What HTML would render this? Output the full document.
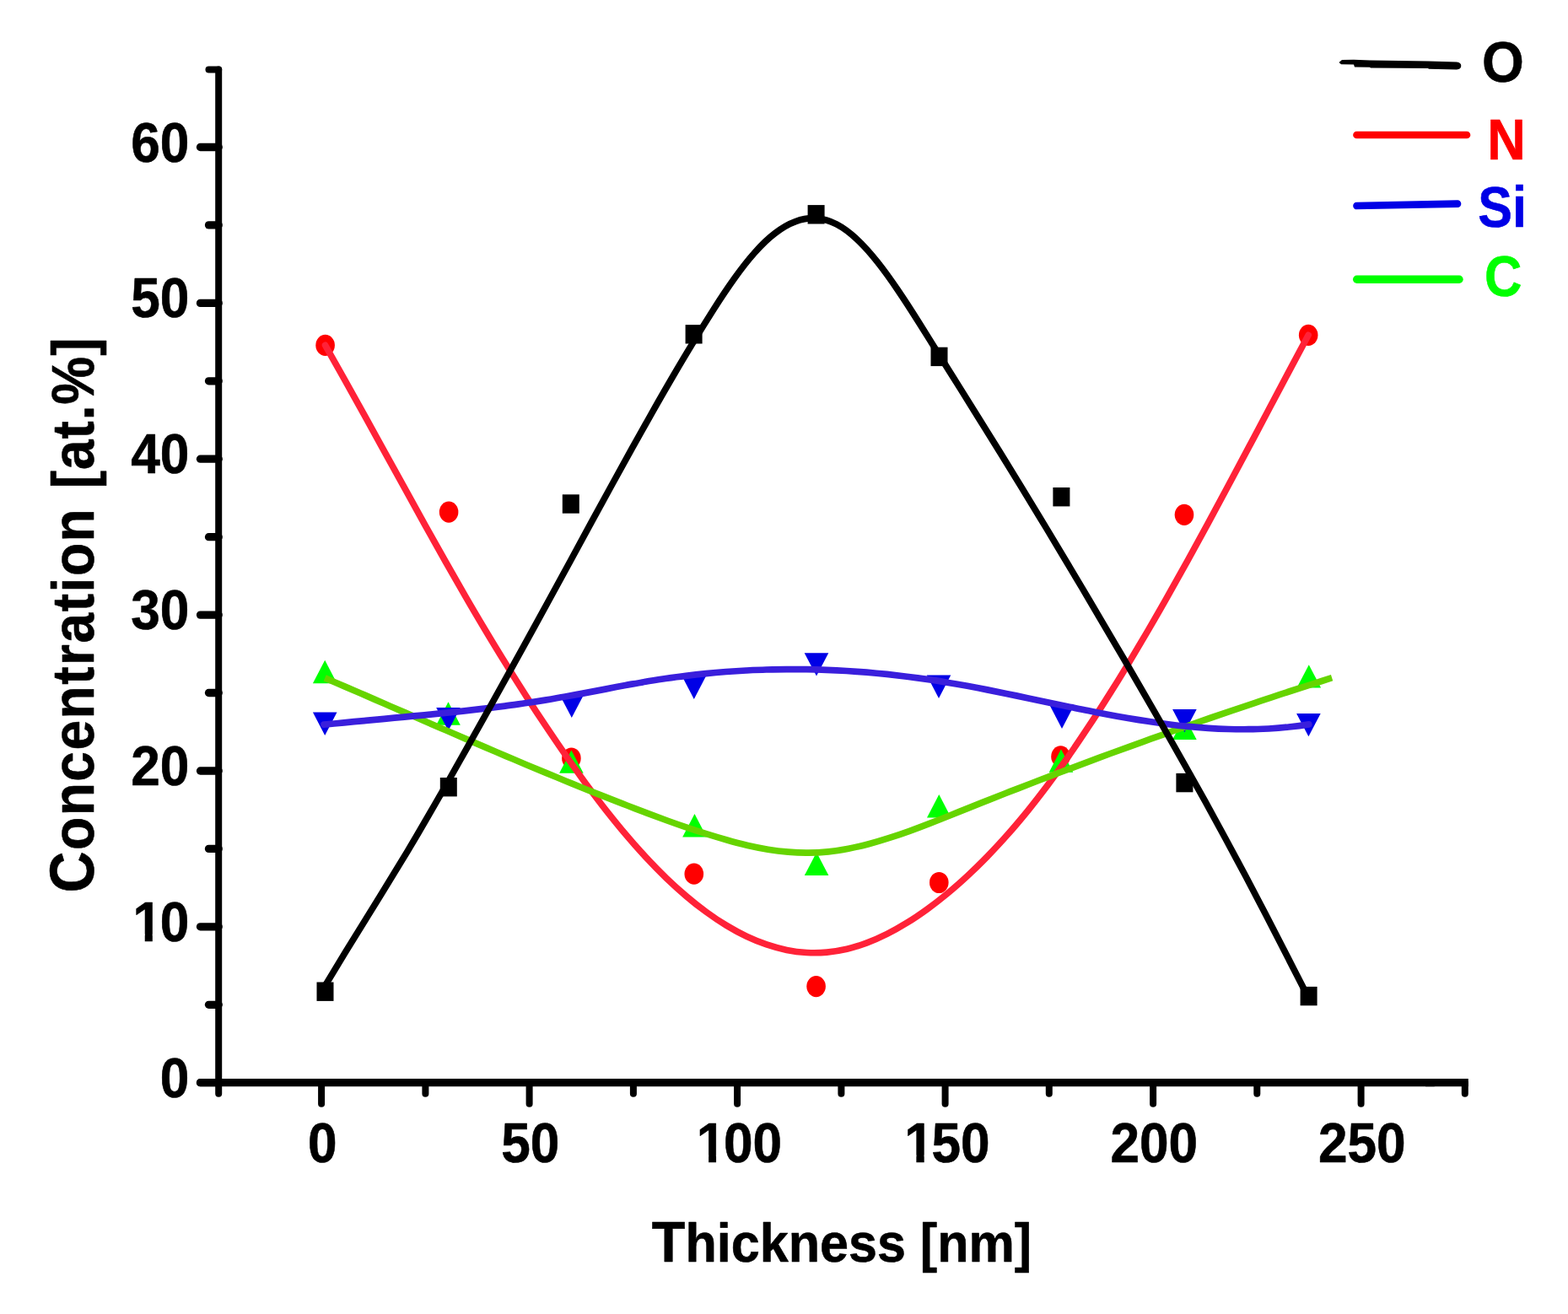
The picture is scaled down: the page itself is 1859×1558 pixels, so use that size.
<!DOCTYPE html>
<html lang="en">
<head>
<meta charset="utf-8">
<title>Concentration [at.%] vs Thickness [nm]</title>
<style>
html,body{margin:0;padding:0;background:#fff;}
body{width:1859px;height:1558px;overflow:hidden;}
svg{display:block;}
text{font-family:"Liberation Sans",Arial,Helvetica,sans-serif;font-weight:bold;stroke-width:0.6px;stroke-linejoin:round;}
.ax{stroke:#000;stroke-linecap:round;fill:none;}
.cv{fill:none;stroke-linecap:round;stroke-linejoin:round;}
</style>
</head>
<body>
<svg width="1859" height="1558" viewBox="0 0 1859 1558">
<rect x="0" y="0" width="1859" height="1558" fill="#ffffff"/>
<g id="markers-O" fill="#000000">
<rect x="375.5" y="1164.5" width="20.0" height="22.4"/>
<rect x="521.8" y="922.0" width="20.0" height="22.4"/>
<rect x="666.8" y="586.3" width="20.0" height="22.4"/>
<rect x="812.6" y="385.1" width="20.0" height="22.4"/>
<rect x="957.6" y="243.1" width="20.0" height="22.4"/>
<rect x="1103.5" y="411.7" width="20.0" height="22.4"/>
<rect x="1248.4" y="578.0" width="20.0" height="22.4"/>
<rect x="1394.4" y="916.9" width="20.0" height="22.4"/>
<rect x="1541.6" y="1169.9" width="20.0" height="22.4"/>
</g>
<g id="markers-N" fill="#ff0000">
<ellipse cx="385.6" cy="409.4" rx="11.3" ry="12.6"/>
<ellipse cx="532.1" cy="607.1" rx="11.3" ry="12.6"/>
<ellipse cx="677.4" cy="899.0" rx="11.3" ry="12.6"/>
<ellipse cx="822.8" cy="1036.2" rx="11.3" ry="12.6"/>
<ellipse cx="967.6" cy="1169.6" rx="11.3" ry="12.6"/>
<ellipse cx="1113.3" cy="1046.5" rx="11.3" ry="12.6"/>
<ellipse cx="1257.5" cy="896.9" rx="11.3" ry="12.6"/>
<ellipse cx="1404.0" cy="610.3" rx="11.3" ry="12.6"/>
<ellipse cx="1551.2" cy="397.3" rx="11.3" ry="12.6"/>
</g>
<g id="markers-C" fill="#00ff00">
<polygon points="385.2,782.8 399.5,810.2 370.9,810.2"/>
<polygon points="531.5,832.3 545.8,859.7 517.2,859.7"/>
<polygon points="677.4,889.4 691.7,916.8 663.1,916.8"/>
<polygon points="823.5,965.1 837.8,992.5 809.2,992.5"/>
<polygon points="968.1,1010.6 982.4,1038.0 953.8,1038.0"/>
<polygon points="1113.3,942.1 1127.6,969.5 1099.0,969.5"/>
<polygon points="1258.0,888.3 1272.3,915.7 1243.7,915.7"/>
<polygon points="1404.4,849.5 1418.7,876.9 1390.1,876.9"/>
<polygon points="1551.8,788.2 1566.1,815.6 1537.5,815.6"/>
</g>
<g id="markers-Si" fill="#0000e6">
<polygon points="370.9,844.6 399.5,844.6 385.2,872.0"/>
<polygon points="517.2,839.0 545.8,839.0 531.5,866.4"/>
<polygon points="663.5,823.7 692.1,823.7 677.8,851.1"/>
<polygon points="808.5,801.5 837.1,801.5 822.8,828.9"/>
<polygon points="953.7,774.2 982.3,774.2 968.0,801.6"/>
<polygon points="1098.7,800.5 1127.3,800.5 1113.0,827.9"/>
<polygon points="1244.7,836.5 1273.3,836.5 1259.0,863.9"/>
<polygon points="1390.1,840.9 1418.7,840.9 1404.4,868.3"/>
<polygon points="1537.1,845.9 1565.7,845.9 1551.4,873.3"/>
</g>
<g id="curves">
<path id="curve-N" class="cv" stroke-width="7.7" stroke="#ff2238" d="M385.6 409.4 C393.5 423.3 401.5 437.4 409.4 451.6 C417.3 465.8 425.2 480.1 433.2 494.4 C441.1 508.7 449.0 523.1 457.0 537.6 C464.9 552.0 472.8 566.4 480.8 580.7 C488.7 595.1 496.6 609.4 504.5 623.7 C512.5 637.9 520.4 652.0 528.3 666.0 C536.3 680.1 544.2 693.9 552.1 707.6 C560.0 721.3 568.0 734.8 575.9 748.0 C583.8 761.3 591.8 774.3 599.7 787.1 C607.6 799.9 615.5 812.5 623.5 824.8 C631.4 837.2 639.3 849.3 647.3 861.2 C655.2 873.0 663.1 884.7 671.1 896.1 C679.0 907.5 686.9 918.6 694.8 929.4 C702.8 940.2 710.7 950.7 718.6 960.8 C726.6 970.9 734.5 980.7 742.4 990.0 C750.3 999.4 758.3 1008.4 766.2 1016.9 C774.1 1025.4 782.1 1033.5 790.0 1041.2 C797.9 1048.8 805.9 1056.0 813.8 1062.7 C821.7 1069.5 829.6 1075.7 837.6 1081.5 C845.5 1087.3 853.4 1092.6 861.4 1097.4 C869.3 1102.2 877.2 1106.5 885.1 1110.2 C893.1 1114.0 901.0 1117.2 908.9 1119.9 C916.9 1122.6 924.8 1124.8 932.7 1126.4 C940.6 1128.0 948.6 1129.0 956.5 1129.5 C964.4 1129.9 972.4 1129.8 980.3 1129.1 C988.2 1128.4 996.2 1127.0 1004.1 1125.2 C1012.0 1123.3 1019.9 1120.8 1027.9 1117.9 C1035.8 1114.9 1043.7 1111.4 1051.7 1107.4 C1059.6 1103.5 1067.5 1099.0 1075.4 1094.1 C1083.4 1089.2 1091.3 1083.8 1099.2 1078.1 C1107.2 1072.3 1115.1 1066.1 1123.0 1059.6 C1130.9 1053.0 1138.9 1046.1 1146.8 1038.7 C1154.7 1031.4 1162.7 1023.6 1170.6 1015.5 C1178.5 1007.3 1186.5 998.8 1194.4 989.8 C1202.3 980.9 1210.2 971.5 1218.2 961.7 C1226.1 951.9 1234.0 941.7 1242.0 931.1 C1249.9 920.5 1257.8 909.5 1265.7 898.2 C1273.7 886.9 1281.6 875.2 1289.5 863.2 C1297.5 851.3 1305.4 839.0 1313.3 826.4 C1321.3 813.8 1329.2 801.0 1337.1 787.9 C1345.0 774.8 1353.0 761.4 1360.9 747.9 C1368.8 734.3 1376.8 720.5 1384.7 706.4 C1392.6 692.4 1400.5 678.2 1408.5 663.9 C1416.4 649.5 1424.3 635.0 1432.3 620.4 C1440.2 605.8 1448.1 591.0 1456.0 576.2 C1464.0 561.4 1471.9 546.5 1479.8 531.6 C1487.8 516.7 1495.7 501.7 1503.6 486.8 C1511.6 471.8 1519.5 456.8 1527.4 441.9 C1535.3 427.0 1543.3 412.1 1551.2 397.3"/>
<path id="curve-C" class="cv" style="stroke-linecap:butt" stroke-width="7.7" stroke="#66d400" d="M385.2 803.9 C393.2 807.3 401.1 810.7 409.1 814.1 C417.0 817.5 425.0 821.0 433.0 824.4 C440.9 827.9 448.9 831.3 456.8 834.8 C464.8 838.2 472.8 841.7 480.7 845.1 C488.7 848.6 496.6 852.0 504.6 855.5 C512.5 858.9 520.5 862.4 528.5 865.8 C536.4 869.3 544.4 872.7 552.3 876.1 C560.3 879.6 568.3 883.0 576.2 886.4 C584.2 889.8 592.1 893.2 600.1 896.6 C608.1 899.9 616.0 903.3 624.0 906.7 C631.9 910.0 639.9 913.3 647.9 916.6 C655.8 919.9 663.8 923.2 671.7 926.5 C679.7 929.7 687.7 933.0 695.6 936.2 C703.6 939.4 711.5 942.6 719.5 945.7 C727.5 948.9 735.4 952.0 743.4 955.0 C751.3 958.1 759.3 961.2 767.2 964.2 C775.2 967.2 783.2 970.1 791.1 973.0 C799.1 975.9 807.0 978.7 815.0 981.4 C823.0 984.1 830.9 986.7 838.9 989.2 C846.8 991.7 854.8 994.0 862.8 996.2 C870.7 998.5 878.7 1000.5 886.6 1002.4 C894.6 1004.2 902.6 1005.8 910.5 1007.2 C918.5 1008.5 926.4 1009.5 934.4 1010.2 C942.4 1010.9 950.3 1011.3 958.3 1011.2 C966.2 1011.2 974.2 1010.7 982.1 1009.8 C990.1 1009.0 998.1 1007.7 1006.0 1006.2 C1014.0 1004.7 1021.9 1002.8 1029.9 1000.7 C1037.9 998.6 1045.8 996.3 1053.8 993.7 C1061.7 991.2 1069.7 988.5 1077.7 985.6 C1085.6 982.7 1093.6 979.7 1101.5 976.6 C1109.5 973.5 1117.5 970.4 1125.4 967.2 C1133.4 964.0 1141.3 960.8 1149.3 957.6 C1157.3 954.4 1165.2 951.2 1173.2 948.1 C1181.1 945.0 1189.1 941.8 1197.1 938.7 C1205.0 935.6 1213.0 932.5 1220.9 929.5 C1228.9 926.4 1236.8 923.3 1244.8 920.3 C1252.8 917.3 1260.7 914.2 1268.7 911.3 C1276.6 908.3 1284.6 905.3 1292.6 902.3 C1300.5 899.4 1308.5 896.4 1316.4 893.5 C1324.4 890.6 1332.4 887.7 1340.3 884.8 C1348.3 881.9 1356.2 879.0 1364.2 876.2 C1372.2 873.3 1380.1 870.5 1388.1 867.7 C1396.0 864.9 1404.0 862.1 1412.0 859.3 C1419.9 856.5 1427.9 853.8 1435.8 851.0 C1443.8 848.3 1451.8 845.6 1459.7 842.9 C1467.7 840.2 1475.6 837.5 1483.6 834.8 C1491.5 832.1 1499.5 829.5 1507.5 826.9 C1515.4 824.2 1523.4 821.6 1531.3 819.0 C1539.3 816.4 1547.3 813.9 1555.2 811.3 C1563.2 808.8 1571.1 806.2 1579.1 803.7"/>
<path id="curve-Si" class="cv" stroke-width="7.7" stroke="#3a1fdc" d="M384.1 859.2 C392.0 858.4 400.0 857.6 407.9 856.8 C415.9 856.1 423.8 855.3 431.8 854.6 C439.7 853.8 447.6 853.1 455.6 852.3 C463.5 851.6 471.5 850.8 479.4 850.1 C487.4 849.3 495.3 848.6 503.3 847.8 C511.2 847.0 519.1 846.2 527.1 845.4 C535.0 844.6 543.0 843.8 550.9 842.9 C558.9 842.0 566.8 841.1 574.7 840.1 C582.7 839.2 590.6 838.2 598.6 837.1 C606.5 836.1 614.5 834.9 622.4 833.8 C630.3 832.6 638.3 831.4 646.2 830.1 C654.2 828.8 662.1 827.5 670.1 826.0 C678.0 824.6 686.0 823.1 693.9 821.6 C701.8 820.1 709.8 818.6 717.7 817.1 C725.7 815.5 733.6 814.0 741.6 812.5 C749.5 811.1 757.4 809.6 765.4 808.3 C773.3 806.9 781.3 805.7 789.2 804.5 C797.2 803.3 805.1 802.2 813.1 801.3 C821.0 800.3 828.9 799.4 836.9 798.6 C844.8 797.8 852.8 797.1 860.7 796.5 C868.7 795.9 876.6 795.4 884.5 795.0 C892.5 794.6 900.4 794.2 908.4 794.0 C916.3 793.8 924.3 793.6 932.2 793.6 C940.1 793.5 948.1 793.6 956.0 793.7 C964.0 793.8 971.9 794.0 979.9 794.3 C987.8 794.6 995.8 795.0 1003.7 795.5 C1011.6 796.0 1019.6 796.6 1027.5 797.2 C1035.5 797.9 1043.4 798.6 1051.4 799.4 C1059.3 800.3 1067.2 801.2 1075.2 802.2 C1083.1 803.2 1091.1 804.3 1099.0 805.4 C1107.0 806.6 1114.9 807.8 1122.8 809.2 C1130.8 810.5 1138.7 811.9 1146.7 813.3 C1154.6 814.8 1162.6 816.3 1170.5 817.9 C1178.5 819.5 1186.4 821.1 1194.3 822.7 C1202.3 824.3 1210.2 826.0 1218.2 827.7 C1226.1 829.3 1234.1 831.0 1242.0 832.7 C1249.9 834.4 1257.9 836.0 1265.8 837.7 C1273.8 839.3 1281.7 841.0 1289.7 842.5 C1297.6 844.1 1305.6 845.7 1313.5 847.2 C1321.4 848.7 1329.4 850.1 1337.3 851.5 C1345.3 852.8 1353.2 854.1 1361.2 855.3 C1369.1 856.5 1377.0 857.6 1385.0 858.7 C1392.9 859.7 1400.9 860.6 1408.8 861.4 C1416.8 862.2 1424.7 862.8 1432.6 863.3 C1440.6 863.9 1448.5 864.3 1456.5 864.5 C1464.4 864.7 1472.4 864.8 1480.3 864.7 C1488.3 864.7 1496.2 864.4 1504.1 864.0 C1512.1 863.5 1520.0 862.9 1528.0 862.0 C1535.9 861.2 1543.9 860.2 1551.8 858.9"/>
<path id="curve-O" class="cv" stroke-width="7.7" stroke="#000000" d="M385.6 1168.5 C393.7 1155.0 401.8 1141.7 409.8 1128.5 C417.9 1115.3 426.0 1102.3 434.1 1089.3 C442.2 1076.3 450.3 1063.2 458.3 1050.1 C466.4 1036.9 474.5 1023.7 482.6 1010.2 C490.7 996.7 498.8 982.9 506.8 969.0 C514.9 955.1 523.0 941.0 531.1 926.8 C539.2 912.6 547.3 898.3 555.3 884.0 C563.4 869.6 571.5 855.2 579.6 840.7 C587.7 826.3 595.7 811.7 603.8 797.2 C611.9 782.6 620.0 767.9 628.1 753.2 C636.2 738.5 644.2 723.8 652.3 709.0 C660.4 694.2 668.5 679.3 676.6 664.5 C684.7 649.6 692.7 634.7 700.8 619.9 C708.9 605.0 717.0 590.2 725.1 575.5 C733.2 560.7 741.2 546.1 749.3 531.6 C757.4 517.0 765.5 502.6 773.6 488.4 C781.6 474.2 789.7 460.2 797.8 446.3 C805.9 432.5 814.0 418.9 822.1 405.6 C830.1 392.3 838.2 379.2 846.3 366.5 C854.4 353.8 862.5 341.6 870.6 330.3 C878.6 319.0 886.7 308.6 894.8 299.5 C902.9 290.3 911.0 282.5 919.1 276.4 C927.1 270.2 935.2 265.5 943.3 262.6 C951.4 259.6 959.5 258.3 967.6 258.8 C975.6 259.3 983.7 261.6 991.8 265.8 C999.9 270.0 1008.0 276.1 1016.0 283.7 C1024.1 291.3 1032.2 300.4 1040.3 310.6 C1048.4 320.8 1056.5 332.1 1064.5 344.0 C1072.6 355.9 1080.7 368.5 1088.8 381.4 C1096.9 394.2 1105.0 407.2 1113.0 420.1 C1121.1 433.1 1129.2 445.9 1137.3 458.8 C1145.4 471.8 1153.5 484.7 1161.5 497.6 C1169.6 510.5 1177.7 523.5 1185.8 536.6 C1193.9 549.6 1201.9 562.8 1210.0 576.0 C1218.1 589.2 1226.2 602.5 1234.3 615.9 C1242.4 629.3 1250.4 642.7 1258.5 656.2 C1266.6 669.7 1274.7 683.3 1282.8 696.9 C1290.9 710.6 1298.9 724.2 1307.0 738.0 C1315.1 751.7 1323.2 765.5 1331.3 779.3 C1339.4 793.1 1347.4 807.0 1355.5 821.0 C1363.6 834.9 1371.7 849.0 1379.8 863.1 C1387.8 877.2 1395.9 891.4 1404.0 905.8 C1412.1 920.1 1420.2 934.6 1428.3 949.2 C1436.3 963.8 1444.4 978.6 1452.5 993.5 C1460.6 1008.4 1468.7 1023.4 1476.8 1038.7 C1484.8 1053.9 1492.9 1069.4 1501.0 1085.0 C1509.1 1100.6 1517.2 1116.4 1525.3 1132.2 C1533.3 1148.0 1541.4 1163.8 1549.5 1179.5"/>
</g>
<g id="axes" class="ax">
<path stroke-width="8" d="M259.2 82.6 V1296.7"/>
<path stroke-width="9.3" d="M237.5 1283.7 H1700.0"/>
<path stroke-width="9.3" style="stroke-linecap:butt" d="M1690.0 1283.7 H1740.8"/>
<path stroke-width="9.3" d="M237.5 1283.7 H259.2"/>
<path stroke-width="9.3" d="M247.5 1191.3 H259.2"/>
<path stroke-width="9.3" d="M237.5 1098.8 H259.2"/>
<path stroke-width="9.3" d="M247.5 1006.4 H259.2"/>
<path stroke-width="9.3" d="M237.5 914.0 H259.2"/>
<path stroke-width="9.3" d="M247.5 821.5 H259.2"/>
<path stroke-width="9.3" d="M237.5 729.1 H259.2"/>
<path stroke-width="9.3" d="M247.5 636.7 H259.2"/>
<path stroke-width="9.3" d="M237.5 544.2 H259.2"/>
<path stroke-width="9.3" d="M247.5 451.8 H259.2"/>
<path stroke-width="9.3" d="M237.5 359.4 H259.2"/>
<path stroke-width="9.3" d="M247.5 266.9 H259.2"/>
<path stroke-width="9.3" d="M237.5 174.5 H259.2"/>
<path stroke-width="8" d="M247.5 82.6 H259.2"/>
<path stroke-width="8" d="M381.1 1283.7 V1308.7"/>
<path stroke-width="8" d="M504.4 1283.7 V1296.7"/>
<path stroke-width="8" d="M627.6 1283.7 V1308.7"/>
<path stroke-width="8" d="M750.9 1283.7 V1296.7"/>
<path stroke-width="8" d="M874.1 1283.7 V1308.7"/>
<path stroke-width="8" d="M997.4 1283.7 V1296.7"/>
<path stroke-width="8" d="M1120.6 1283.7 V1308.7"/>
<path stroke-width="8" d="M1243.8 1283.7 V1296.7"/>
<path stroke-width="8" d="M1367.1 1283.7 V1308.7"/>
<path stroke-width="8" d="M1490.3 1283.7 V1296.7"/>
<path stroke-width="8" d="M1613.6 1283.7 V1308.7"/>
<path stroke-width="8" d="M1736.8 1283.7 V1296.7"/>
</g>
<g id="ylabels">
<text transform="translate(224.30 1300.80) scale(0.9380 1)" font-size="66.3" text-anchor="end" fill="#000" stroke="#000">0</text>
<text transform="translate(221.86 1115.93) scale(0.9380 1)" font-size="66.3" text-anchor="end" fill="#000" stroke="#000"><tspan dx="2.6">1</tspan><tspan dx="-2.6">0</tspan></text>
<text transform="translate(224.30 931.06) scale(0.9380 1)" font-size="66.3" text-anchor="end" fill="#000" stroke="#000">20</text>
<text transform="translate(224.30 746.19) scale(0.9380 1)" font-size="66.3" text-anchor="end" fill="#000" stroke="#000">30</text>
<text transform="translate(224.30 561.32) scale(0.9380 1)" font-size="66.3" text-anchor="end" fill="#000" stroke="#000">40</text>
<text transform="translate(224.30 376.45) scale(0.9380 1)" font-size="66.3" text-anchor="end" fill="#000" stroke="#000">50</text>
<text transform="translate(224.30 191.58) scale(0.9380 1)" font-size="66.3" text-anchor="end" fill="#000" stroke="#000">60</text>
</g>
<g id="xlabels">
<text transform="translate(382.30 1377.50) scale(0.9380 1)" font-size="66.3" text-anchor="middle" fill="#000" stroke="#000">0</text>
<text transform="translate(628.80 1377.50) scale(0.9380 1)" font-size="66.3" text-anchor="middle" fill="#000" stroke="#000">50</text>
<text transform="translate(874.08 1377.50) scale(0.9380 1)" font-size="66.3" text-anchor="middle" fill="#000" stroke="#000"><tspan dx="2.6">1</tspan><tspan dx="-2.6">00</tspan></text>
<text transform="translate(1120.58 1377.50) scale(0.9380 1)" font-size="66.3" text-anchor="middle" fill="#000" stroke="#000"><tspan dx="2.6">1</tspan><tspan dx="-2.6">50</tspan></text>
<text transform="translate(1368.30 1377.50) scale(0.9380 1)" font-size="66.3" text-anchor="middle" fill="#000" stroke="#000">200</text>
<text transform="translate(1614.80 1377.50) scale(0.9380 1)" font-size="66.3" text-anchor="middle" fill="#000" stroke="#000">250</text>
</g>
<g id="one-foot-mask" fill="#ffffff">
<rect x="159.34" y="1107.55" width="12.40" height="9.90"/>
<rect x="180.80" y="1107.55" width="10.40" height="9.90"/>
<rect x="827.73" y="1369.55" width="12.40" height="9.90"/>
<rect x="849.08" y="1369.55" width="10.40" height="9.90"/>
<rect x="1073.98" y="1369.55" width="12.40" height="9.90"/>
<rect x="1095.69" y="1369.55" width="10.40" height="9.90"/>
</g>
<text id="xtitle" transform="translate(998.00 1495.60) scale(0.9520 1)" font-size="64.2" text-anchor="middle" fill="#000" stroke="#000"><tspan font-size="68.052">T</tspan>hickness [nm]</text>
<text letter-spacing="1.67" id="ytitle" transform="translate(111.30 729.10) rotate(-90) scale(0.9150 1)" font-size="70" text-anchor="middle" fill="#000" stroke="#000"><tspan font-size="74.2">C</tspan>oncentration <tspan dx="3.6" letter-spacing="0.95">[at.%]</tspan></text>
<g id="legend">
<path fill="#000000" d="M1587.5 74 L1591 71 L1605 70.8 L1624 71.6 L1693 72.6 L1727 73.6 Q1732.3 74.2 1732.3 78 Q1732.3 82.2 1727 82.4 L1694 81.8 L1693 81 L1625 80.6 L1624 79.8 L1606 79.4 L1605 76.4 L1590 76.2 Z"/>
<text transform="translate(1782.00 97.00) scale(0.9450 1)" font-size="67.8" text-anchor="middle" fill="#000000" stroke="#000000">O</text>
<path class="cv" stroke="#ff0000" stroke-width="8.7" d="M1608.5 160 H1739"/>
<text transform="translate(1786.00 189.00) scale(0.9300 1)" font-size="67.8" text-anchor="middle" fill="#ff0000" stroke="#ff0000">N</text>
<path class="cv" stroke="#0000e6" stroke-width="8.7" d="M1608.5 244 L1728 241.7"/>
<text transform="translate(1781.20 269.00) scale(0.9000 1)" font-size="67.8" text-anchor="middle" fill="#0000e6" stroke="#0000e6">Si</text>
<path class="cv" stroke="#00ff00" stroke-width="9.4" d="M1608.7 331.2 H1730"/>
<text transform="translate(1782.20 351.00) scale(0.8950 1)" font-size="68.6" text-anchor="middle" fill="#00ff00" stroke="#00ff00">C</text>
</g>
</svg>
</body>
</html>
